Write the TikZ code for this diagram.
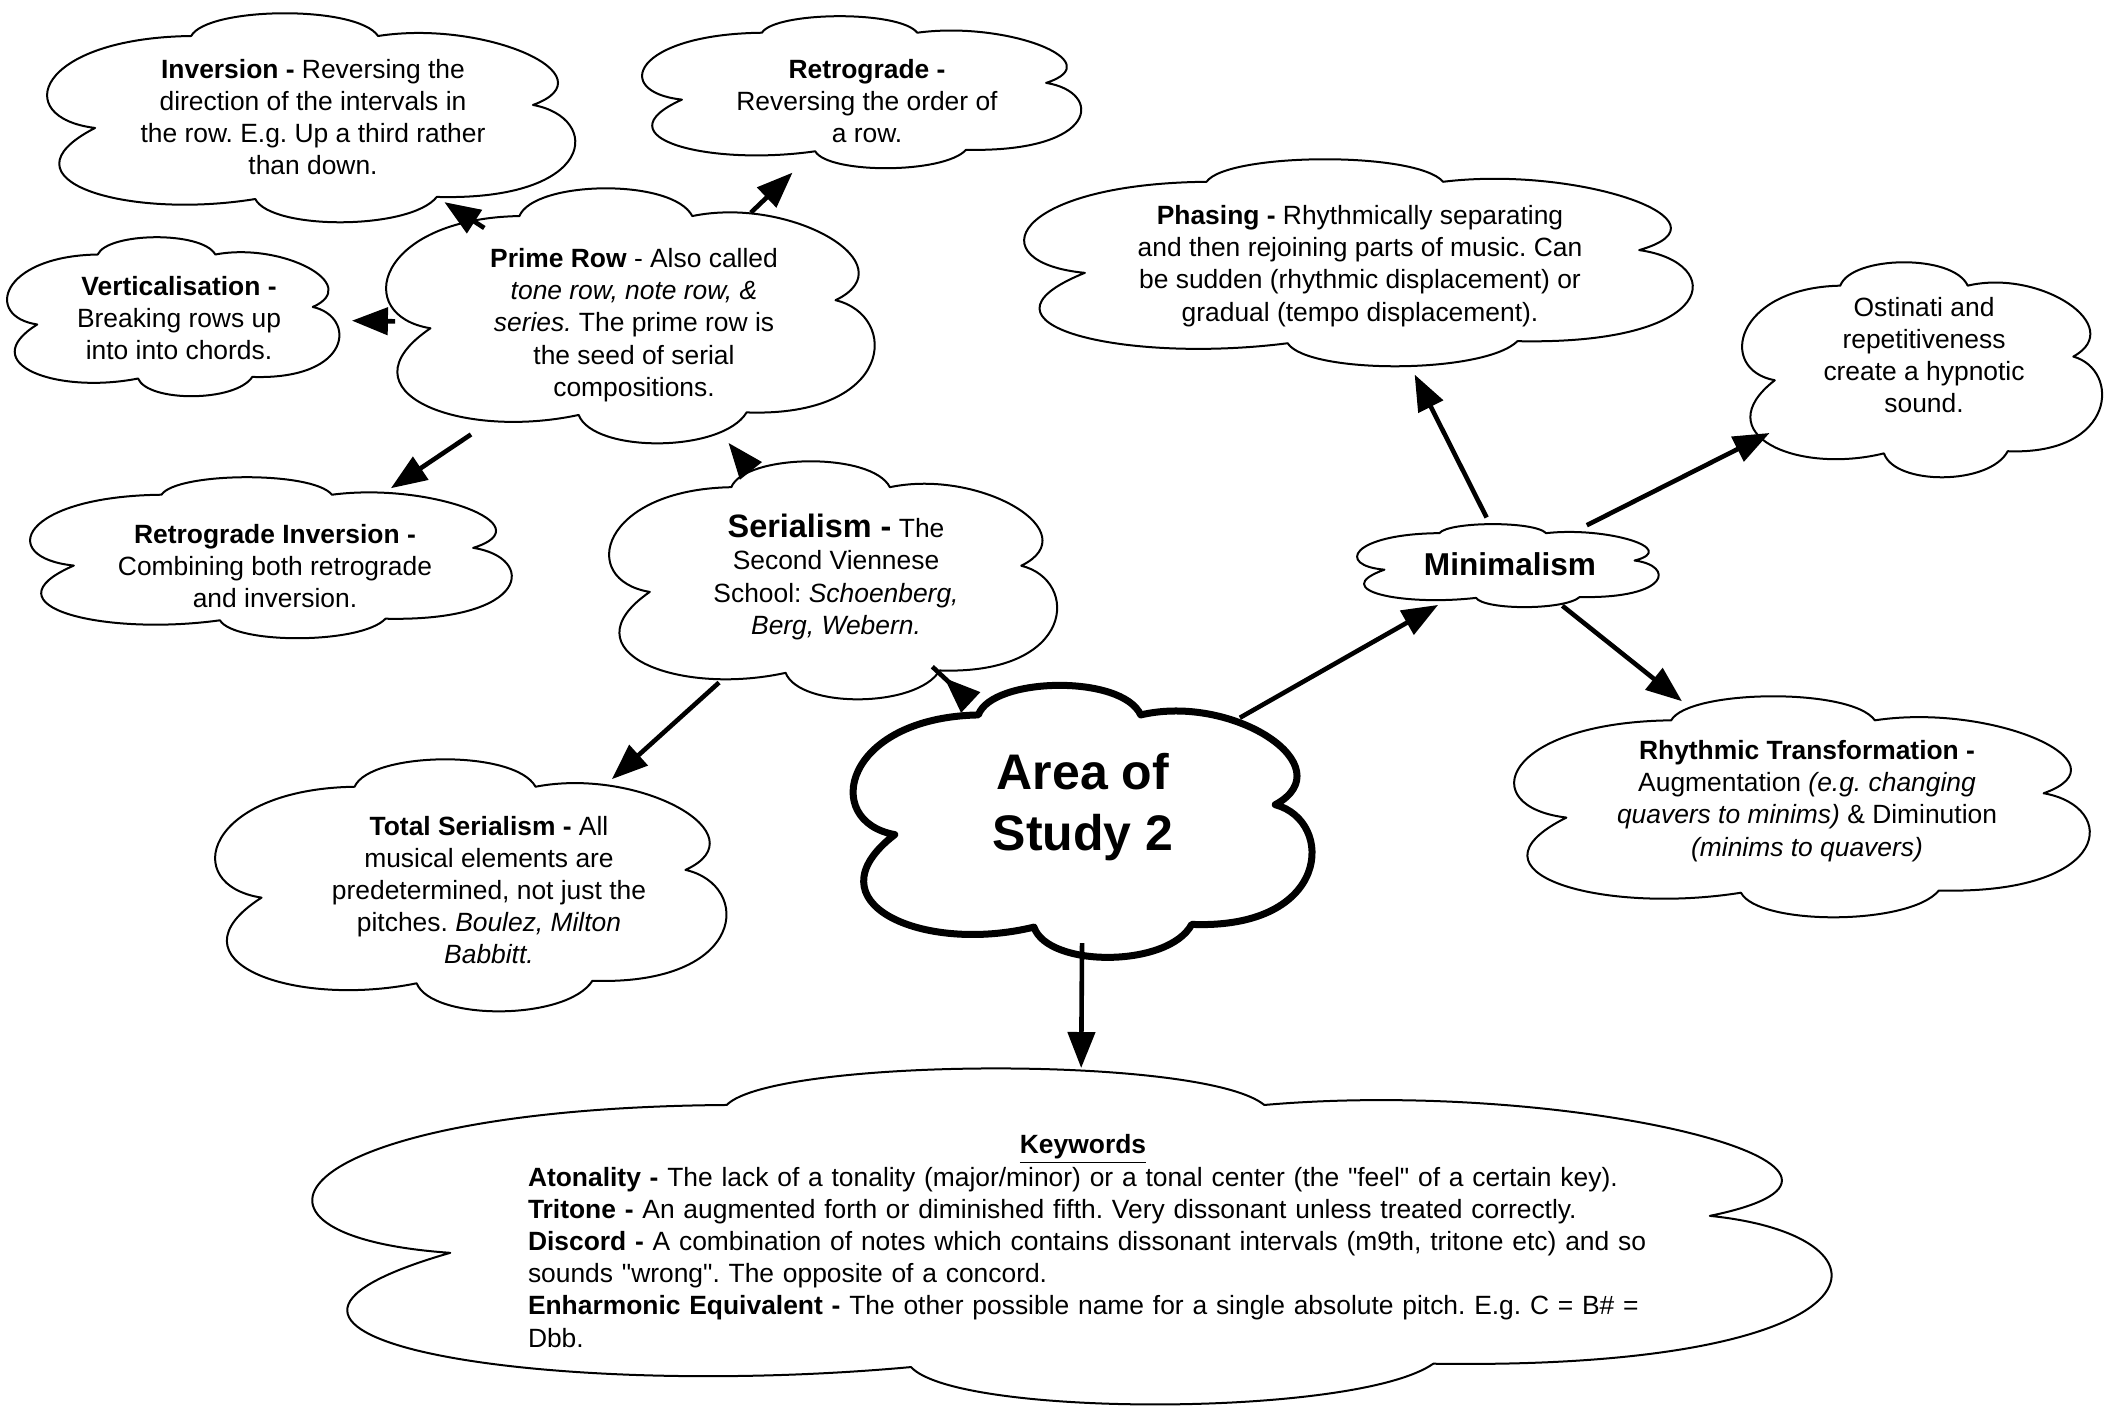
\documentclass[tikz,border=0pt]{standalone}
\usepackage{fontspec}
\setmainfont{Liberation Sans}[Ligatures=TeXOff]
\usetikzlibrary{arrows.meta,shapes.geometric}
\frenchspacing
\tikzset{
  cloudline/.style={draw=black, line width=1pt, fill=white, line join=round},
  thickcloud/.style={line width=3.5pt},
  hub/.style 2 args={ellipse, inner sep=0pt, outer sep=0pt, minimum width=#1*0.5pt, minimum height=#2*0.5pt},
  txt/.style={font=\fontsize{13.2}{16.1}\selectfont, align=center, inner sep=0pt},
  kwtxt/.style={font=\fontsize{13.2}{16.1}\selectfont, align=left, text width=560pt, inner sep=0pt},
  bigtxt/.style={font=\fontsize{25}{30.2}\selectfont\bfseries, align=center, inner sep=0pt},
  mintxt/.style={font=\fontsize{15.8}{19}\selectfont\bfseries, align=center, inner sep=0pt},
  arr/.style={line width=2.3pt, -{Triangle[length=18pt,width=13.5pt]}}
}
% cloud outline in the box (x0,y0) with width w and height h (pixel units)
\newcommand\omcloud[5][]{%
  \draw[cloudline,#1,shift={(#2,#3)},xscale=#4,yscale=#5]
    (0.09,0.55) .. controls (-0.07,0.50) and (-0.02,0.12) .. (0.27,0.11)
    .. controls (0.30,-0.03) and (0.58,-0.04) .. (0.62,0.11)
    .. controls (0.82,0.03) and (1.06,0.30) .. (0.91,0.44)
    .. controls (1.04,0.50) and (1.03,0.90) .. (0.73,0.88)
    .. controls (0.68,1.04) and (0.42,1.04) .. (0.39,0.89)
    .. controls (0.15,0.99) and (-0.10,0.80) .. (0.09,0.55) -- cycle;}
\begin{document}
\begin{tikzpicture}[x=0.5pt, y=-0.5pt]
\useasboundingbox (0,0) rectangle (2107,1410);
\fill[white] (0,0) rectangle (2107,1410);

% cloud outlines
\omcloud{47}{13}{534}{209}
\omcloud{642}{16}{444}{152}
\omcloud{7}{237}{336}{159}
\omcloud{386}{188}{494}{255}
\omcloud{30}{477}{487}{161}
\omcloud{609}{461}{453}{238}
\omcloud{215}{759}{517}{252}
\omcloud[thickcloud]{853}{685}{464}{272}
\omcloud{1024}{159}{676}{207}
\omcloud{1742}{262}{364}{215}
\omcloud{1357}{524}{305}{83}
\omcloud{1514}{696}{582}{221}
\omcloud{312}{1068}{1536}{336}

% nodes
\node[hub={534}{209}, label={[txt]center:{\textbf{Inversion -} Reversing the\\direction of the intervals in\\the row. E.g. Up a third rather\\than down.}}] (inv) at (313,117) {};
\node[hub={444}{152}, label={[txt]center:{\textbf{Retrograde -}\\Reversing the order of\\a row.}}] (retro) at (867,101) {};
\node[hub={336}{159}, label={[txt]center:{\textbf{Verticalisation -}\\Breaking rows up\\into into chords.}}] (vert) at (179,318) {};
\node[hub={494}{255}, label={[txt]center:{\textbf{Prime Row} - Also called\\\textit{tone row, note row, \&}\\\textit{series.} The prime row is\\the seed of serial\\compositions.}}] (prime) at (634,325) {};
\node[hub={487}{161}, label={[txt]center:{\textbf{Retrograde Inversion -}\\Combining both retrograde\\and inversion.}}] (rinv) at (275,566) {};
\node[hub={453}{238}, label={[txt]center:{{\fontsize{16.2}{19}\selectfont\textbf{Serialism -}} The\\Second Viennese\\School: \textit{Schoenberg,}\\\textit{Berg, Webern.}}}] (ser) at (836,577) {};
\node[hub={517}{252}, label={[txt]center:{\textbf{Total Serialism -} All\\musical elements are\\predetermined, not just the\\pitches. \textit{Boulez, Milton}\\\textit{Babbitt.}}}] (tot) at (489,890) {};
\node[hub={464}{272}, label={[bigtxt]center:{Area of\\Study 2}}] (area) at (1083,807) {};
\node[hub={676}{207}, label={[txt]center:{\textbf{Phasing -} Rhythmically separating\\and then rejoining parts of music. Can\\be sudden (rhythmic displacement) or\\gradual (tempo displacement).}}] (phas) at (1360,266) {};
\node[hub={364}{215}, label={[txt]center:{Ostinati and\\repetitiveness\\create a hypnotic\\sound.}}] (ost) at (1924,355) {};
\node[hub={305}{83}, label={[mintxt]center:{Minimalism}}] (min) at (1510,564) {};
\node[hub={582}{221}, label={[txt]center:{\textbf{Rhythmic Transformation -}\\Augmentation \textit{(e.g. changing}\\\textit{quavers to minims)} \& Diminution\\\textit{(minims to quavers)}}}] (rhy) at (1807,801) {};
\node[hub={1536}{336}, label={[kwtxt, xshift=4pt, yshift=-2.5pt]center:{\makebox[555pt]{\underline{\textbf{Keywords}}}\\
\textbf{Atonality -} The lack of a tonality (major/minor) or a tonal center (the "feel" of a certain key).\\
\textbf{Tritone -} An augmented forth or diminished fifth. Very dissonant unless treated correctly.\\
\textbf{Discord -} A combination of notes which contains dissonant intervals (m9th, tritone etc) and so\\
sounds "wrong". The opposite of a concord.\\
\textbf{Enharmonic Equivalent -} The other possible name for a single absolute pitch. E.g. C = B\# =\\
Dbb.}}] (kw) at (1080,1236) {};

% connectors
\draw[arr, shorten <=-2.5pt, shorten >=-4pt] (prime) -- (inv);
\draw[arr] (prime) -- (retro);
\draw[arr, shorten <=-4pt, shorten >=2.5pt] (prime) -- (vert);
\draw[arr, shorten <=7.5pt, shorten >=5pt] (prime) -- (rinv);
\draw[arr, shorten <=-2pt] (ser) -- (prime);
\draw[arr, shorten <=-18.5pt, shorten >=-2pt] (area) -- (ser);
\draw[arr, shorten <=2pt] (ser) -- (tot);
\draw[arr, shorten <=-5.5pt, shorten >=3.5pt] (area) -- (min);
\draw[arr] (area) -- (kw);
\draw[arr, shorten <=3pt, shorten >=3.5pt] (min) -- (phas);
\draw[arr, shorten <=2.5pt, shorten >=9pt] (min) -- (ost);
\draw[arr, shorten <=2pt] (min) -- (rhy);
\end{tikzpicture}
\end{document}
